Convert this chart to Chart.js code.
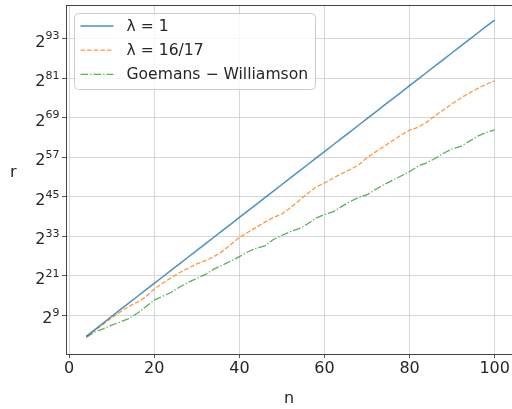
<!DOCTYPE html>
<html>
<head>
<meta charset="utf-8">
<script src="https://cdn.jsdelivr.net/npm/chart.js@4.4.1/dist/chart.umd.min.js"></script>
<style>
  html, body { margin: 0; padding: 0; background: #fff; }
  #growth { display: block; }
</style>
</head>
<body>
<canvas id="growth" width="512" height="409"></canvas>
<script>
// problem size n
const nValues = [4, 6, 8, 10, 12, 14, 16, 18, 20, 22, 24, 26, 28, 30, 32, 34, 36, 38, 40, 42,
  44, 46, 48, 50, 52, 54, 56, 58, 60, 62, 64, 66, 68, 70, 72, 74, 76, 78, 80, 82,
  84, 86, 88, 90, 92, 94, 96, 98, 100];

// log2 of r for each method
const lambdaOne = [2.6, 4.6, 6.6, 8.7, 10.7, 12.7, 14.7, 16.7, 18.7, 20.7, 22.7, 24.7, 26.7, 28.7,
  30.7, 32.7, 34.7, 36.7, 38.7, 40.7, 42.7, 44.7, 46.7, 48.7, 50.7, 52.7, 54.7, 56.7, 58.7,
  60.7, 62.7, 64.7, 66.7, 68.7, 70.7, 72.7, 74.7, 76.7, 78.7, 80.7, 82.7, 84.7, 86.7, 88.7,
  90.7, 92.7, 94.7, 96.7, 98.6];
const lambda1617 = [2.5, 4.4, 6.3, 8.2, 10.0, 11.7, 13.0, 14.6, 17.0, 18.8, 20.4, 22.0, 23.3, 24.6,
  25.6, 26.8, 28.4, 30.5, 32.6, 34.2, 35.7, 37.3, 38.7, 39.8, 41.6, 43.8, 46.0, 47.9, 49.2,
  50.6, 52.0, 53.2, 54.6, 56.8, 58.6, 60.3, 62.0, 63.7, 65.2, 66.1, 67.6, 69.6, 71.4, 73.2,
  74.9, 76.5, 77.9, 79.1, 80.2];
const goemansWilliamson = [2.3, 3.9, 4.9, 6.0, 7.0, 8.0, 9.6, 11.6, 13.6, 14.8, 16.0, 17.6, 19.0,
  20.2, 21.4, 23.0, 24.2, 25.5, 26.8, 28.3, 29.4, 30.1, 32.0, 33.3, 34.4, 35.3, 36.7, 38.5,
  39.6, 40.4, 42.0, 43.5, 44.8, 45.6, 47.2, 48.7, 50.0, 51.3, 52.6, 54.3, 55.3, 56.6, 58.2,
  59.5, 60.3, 61.8, 63.4, 64.5, 65.3];

const seriesLabels = ["λ = 1", "λ = 16/17", "Goemans − Williamson"];
const xTicks = [0, 20, 40, 60, 80, 100];
const yTickExps = [9, 21, 33, 45, 57, 69, 81, 93];

const FONT = "'DejaVu Sans', sans-serif";
const TEXT = "#262626";

function points(ys) {
  return nValues.map((n, i) => ({ x: n, y: ys[i] }));
}

// top spine, upright "r" label and 2^k tick labels with a raised exponent
const framePlugin = {
  id: "frame",
  afterDraw(chart) {
    const { ctx, chartArea } = chart;
    const yScale = chart.scales.y;
    ctx.save();
    ctx.strokeStyle = "#444";
    ctx.lineWidth = 1;
    ctx.beginPath();
    ctx.moveTo(chartArea.left, chartArea.top + 0.5);
    ctx.lineTo(chartArea.right, chartArea.top + 0.5);
    ctx.stroke();

    ctx.fillStyle = TEXT;
    ctx.textBaseline = "alphabetic";
    ctx.textAlign = "left";
    ctx.font = "16px " + FONT;
    ctx.fillText("r", 10, 177);

    const rightEdge = chartArea.left - 6.5;
    yTickExps.forEach((e) => {
      const py = yScale.getPixelForValue(e);
      ctx.font = "11px " + FONT;
      const expW = ctx.measureText(String(e)).width;
      ctx.font = "16px " + FONT;
      const baseW = ctx.measureText("2").width;
      const x = rightEdge - expW - baseW;
      ctx.fillText("2", x, py + 8);
      ctx.font = "11px " + FONT;
      ctx.fillText(String(e), x + baseW, py + 0.8);
    });
    ctx.restore();
  },
};

// legend drawn inside the plot with a rounded, semi-opaque frame
const boxLegend = {
  id: "boxLegend",
  afterDraw(chart) {
    const { ctx, chartArea } = chart;
    const x0 = chartArea.left + 8.5;
    const y0 = chartArea.top + 8.5;
    ctx.save();
    ctx.beginPath();
    ctx.roundRect(x0, y0, 241, 76, 4);
    ctx.fillStyle = "rgba(255,255,255,0.8)";
    ctx.fill();
    ctx.strokeStyle = "#cccccc";
    ctx.lineWidth = 1;
    ctx.stroke();
    chart.data.datasets.forEach((ds, i) => {
      const y = y0 + 12.5 + i * 24.2;
      ctx.beginPath();
      ctx.setLineDash(ds.borderDash || []);
      ctx.strokeStyle = ds.borderColor;
      ctx.lineWidth = ds.borderWidth;
      ctx.moveTo(x0 + 6, y);
      ctx.lineTo(x0 + 39, y);
      ctx.stroke();
      ctx.setLineDash([]);
      ctx.fillStyle = TEXT;
      ctx.font = "15.6px " + FONT;
      ctx.textBaseline = "middle";
      ctx.fillText(ds.label, x0 + 52, y + 1);
    });
    ctx.restore();
  },
};

new Chart(document.getElementById("growth"), {
  type: "line",
  data: {
    datasets: [
      {
        label: seriesLabels[0],
        data: points(lambdaOne),
        borderColor: "rgba(31,119,180,0.8)",
        borderWidth: 1.5,
      },
      {
        label: seriesLabels[1],
        data: points(lambda1617),
        borderColor: "rgba(255,127,14,0.8)",
        borderWidth: 1.3,
        borderDash: [4.6, 2],
      },
      {
        label: seriesLabels[2],
        data: points(goemansWilliamson),
        borderColor: "rgba(44,160,44,0.8)",
        borderWidth: 1.3,
        borderDash: [7.7, 2, 1.3, 2],
      },
    ],
  },
  options: {
    responsive: false,
    animation: false,
    devicePixelRatio: 1,
    layout: { padding: { top: 5, right: 0, left: 0, bottom: 0 } },
    elements: { point: { radius: 0 }, line: { tension: 0 } },
    plugins: { legend: { display: false }, tooltip: { enabled: false } },
    scales: {
      x: {
        type: "linear",
        min: -0.75,
        max: 104.07,
        afterBuildTicks: (scale) => { scale.ticks = xTicks.map((v) => ({ value: v })); },
        afterFit: (scale) => {
          scale.height = 55;
          scale.paddingLeft = 0;
          scale.paddingRight = 0;
        },
        ticks: { font: { family: FONT, size: 16 }, color: TEXT, padding: 1, maxRotation: 0 },
        grid: { color: "#d6d6d6", lineWidth: 1, tickLength: 4, tickColor: "#555" },
        border: { color: "#444", width: 1 },
        title: {
          display: true,
          text: "n",
          font: { family: FONT, size: 16 },
          color: TEXT,
          padding: { top: 0, bottom: 1 },
        },
      },
      y: {
        type: "linear",
        min: -2.75,
        max: 103.2,
        afterBuildTicks: (scale) => { scale.ticks = yTickExps.map((v) => ({ value: v })); },
        afterFit: (scale) => {
          scale.width = 66;
          scale.paddingTop = 0;
          scale.paddingBottom = 0;
        },
        // the labels themselves are painted by the frame plugin
        ticks: { display: false },
        grid: { color: "#d6d6d6", lineWidth: 1, tickLength: 4, tickColor: "#555" },
        border: { color: "#444", width: 1 },
      },
    },
  },
  plugins: [framePlugin, boxLegend],
});
</script>
</body>
</html>
